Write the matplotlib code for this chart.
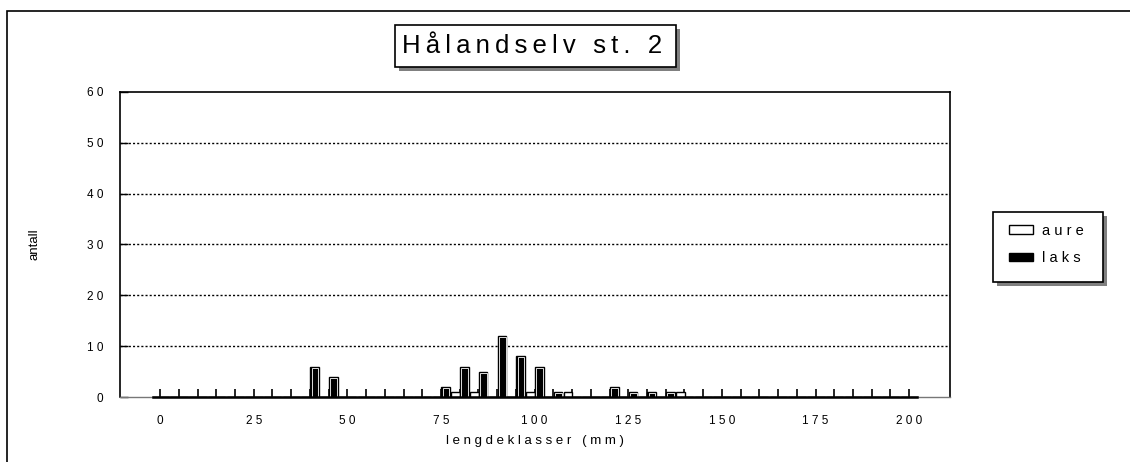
import matplotlib
matplotlib.use("Agg")
import matplotlib.pyplot as plt
from matplotlib.patches import Rectangle, Patch
import numpy as np

plt.rcParams['font.family'] = ['Liberation Sans', 'DejaVu Sans']

# ---- data ----
categories = list(range(0, 205, 5))  # length classes (mm)
aure = [0]*len(categories)
laks = [0]*len(categories)
aure_vals = {80: 1, 85: 1, 100: 1, 110: 1, 140: 1}
laks_vals = {40: 6, 45: 4, 75: 2, 80: 6, 85: 5, 90: 12, 95: 8, 100: 6,
             105: 1, 120: 2, 125: 1, 130: 1, 135: 1}
for k, v in aure_vals.items():
    aure[categories.index(k)] = v
for k, v in laks_vals.items():
    laks[categories.index(k)] = v
ytick_vals = [0, 10, 20, 30, 40, 50, 60]
title = "Hålandselv st. 2"
series_names = ["aure", "laks"]

def spaced(s, sep=" "):
    return sep.join(list(s))

W, H = 1130, 462
fig = plt.figure(figsize=(W/100, H/100), dpi=100)
ax = fig.add_axes([120/W, (H-397)/H, 830/W, 305/H])

x = np.arange(len(categories))
w = 0.46
ax.bar(x - 0.22, aure, w, facecolor='white', edgecolor='black', lw=1.0, zorder=3)
ax.bar(x + 0.25, laks, w, facecolor='black', edgecolor='black', lw=1.0, zorder=3)
laks_arr = np.array(laks, float)
inner = np.where(laks_arr > 0, laks_arr - 0.2, 0)
ax.bar(x + 0.27, inner, w - 0.1, facecolor='black', edgecolor='white', lw=0.6, zorder=4)

ax.set_xlim(-2.14, 42.18)
ax.set_ylim(0, 60)
ax.set_xticks(x)
ax.set_xticklabels([spaced(str(c)) if c % 25 == 0 else "" for c in categories])
ax.set_yticks(ytick_vals)
ax.set_yticklabels([spaced(str(v)) for v in ytick_vals])
ax.tick_params(axis='x', direction='in', length=6, width=1.2, pad=13, labelsize=8.5)
ax.tick_params(axis='y', direction='in', length=6, width=1, pad=12, labelsize=8.5)
for v in ytick_vals[1:-1]:
    ax.axhline(v, color='black', lw=1.0, ls=(0, (1.5, 1.5)), zorder=1)
for s in ['left', 'top', 'right']:
    ax.spines[s].set_linewidth(1.2)
ax.spines['bottom'].set_color('#777777')
ax.spines['bottom'].set_linewidth(1.0)
ax.plot([-0.4, 40.4], [0, 0], color='black', lw=1.8, zorder=5, clip_on=False)

ax.set_xlabel(spaced("lengdeklasser (mm)"), fontsize=9.5, va='center')
ax.xaxis.set_label_coords(0.5, -(441-397)/305)
ax.set_ylabel("antall", fontsize=9.5, va='center', ha='center')
ax.yaxis.set_label_coords(-(120-35)/830, 0.5)

def fbox(x0, y0, x1, y1, **kw):
    return Rectangle((x0/W, 1 - y1/H), (x1-x0)/W, (y1-y0)/H, transform=fig.transFigure, **kw)

# title box with shadow
fig.patches.append(fbox(399, 29, 680, 71, facecolor='#808080', edgecolor='none', zorder=1))
fig.patches.append(fbox(395, 25, 676, 67, facecolor='white', edgecolor='black', lw=1.2, zorder=2))
fig.text(532/W, 1 - 46/H, spaced(title, "\u2009"), fontsize=18.5, ha='center', va='center', zorder=3)

# legend box with shadow
fig.patches.append(fbox(997, 216, 1107, 286, facecolor='#808080', edgecolor='none', zorder=1))
fig.patches.append(fbox(993, 212, 1103, 282, facecolor='white', edgecolor='black', lw=1.2, zorder=2))
handles = [Patch(facecolor='white', edgecolor='black', lw=1.0, label=spaced(series_names[0])),
           Patch(facecolor='black', edgecolor='black', lw=1.0, label=spaced(series_names[1]))]
leg = fig.legend(handles=handles, loc='upper left', bbox_to_anchor=(1009/W, 1 - 224/H),
                 fontsize=10.5, frameon=False, handlelength=1.65, handleheight=0.55,
                 handletextpad=0.6, borderpad=0, labelspacing=0.9, borderaxespad=0)
leg.set_zorder(5)

# outer border
fig.patches.append(Rectangle((7/W, -0.1), 1.2, (1 - 11/H) + 0.1, transform=fig.transFigure,
                             facecolor='none', edgecolor='black', lw=1.2, zorder=0))

fig.savefig("out.png", dpi=100)
